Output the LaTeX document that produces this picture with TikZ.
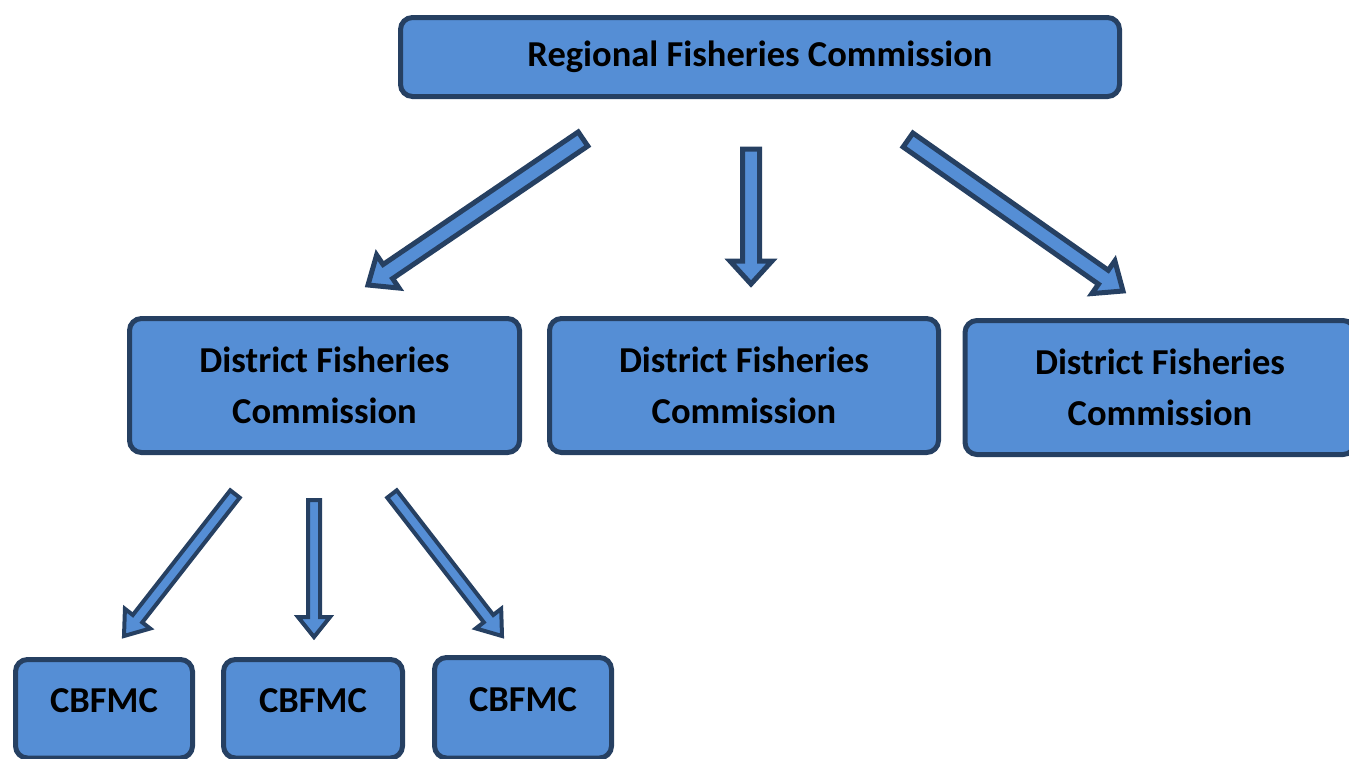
\documentclass[tikz,border=0pt]{standalone}
\usepackage{fontspec}
\setmainfont{Carlito}
\usetikzlibrary{calc}
\definecolor{boxfill}{RGB}{85,142,213}
\definecolor{boxline}{RGB}{38,64,98}
\tikzset{
  orgbox/.style={draw=boxline, fill=boxfill, line width=5pt, rounded corners=12pt,
    align=center, font=\bfseries\fontsize{36.5}{51}\selectfont, inner sep=0pt},
  blockarr/.style={draw=boxline, fill=boxfill, line width=5pt, line join=miter},
  smallarr/.style={draw=boxline, fill=boxfill, line width=4pt, line join=miter}
}
% #1 style, #2 tail, #3 tip, #4 shaft half width, #5 head half width, #6 head length
\newcommand{\blockarrow}[6]{%
  \coordinate (ba-b) at ($(#3)!#6!(#2)$);
  \path[#1] ($(#2)!#4!90:(#3)$) -- ($(ba-b)!#4!90:(#3)$) -- ($(ba-b)!#5!90:(#3)$)
    -- (#3) -- ($(ba-b)!#5!-90:(#3)$) -- ($(ba-b)!#4!-90:(#3)$) -- ($(#2)!#4!-90:(#3)$) -- cycle;
}
\begin{document}
\begin{tikzpicture}[x=1pt,y=-1pt]
\useasboundingbox (0,0) rectangle (1349,758);
\node[orgbox, minimum width=719pt, minimum height=79pt] (reg) at (760,57) {Regional Fisheries Commission};
\node[orgbox, minimum width=390pt, minimum height=134pt] (d1) at (324.5,385.5) {District Fisheries\\Commission};
\node[orgbox, minimum width=389pt, minimum height=134pt] (d2) at (744,385.5) {District Fisheries\\Commission};
\node[orgbox, minimum width=390pt, minimum height=134pt] (d3) at (1160,387.5) {District Fisheries\\Commission};
\node[orgbox, minimum width=177pt, minimum height=98.5pt, text depth=17pt] (c1) at (104,708.75) {CBFMC};
\node[orgbox, minimum width=179pt, minimum height=98.5pt, text depth=17pt] (c2) at (313,708.75) {CBFMC};
\node[orgbox, minimum width=177pt, minimum height=100.5pt, text depth=17pt] (c3) at (523,707.75) {CBFMC};
% upper arrows
\coordinate (a1t) at (583,139); \coordinate (a1h) at (368,285);
\coordinate (a2t) at (751,149); \coordinate (a2h) at (751,284);
\coordinate (a3t) at (908,140); \coordinate (a3h) at (1123,291);
\blockarrow{blockarr}{a1t}{a1h}{8.5pt}{20pt}{24pt}
\blockarrow{blockarr}{a2t}{a2h}{8.5pt}{21pt}{23pt}
\blockarrow{blockarr}{a3t}{a3h}{8.5pt}{20pt}{24pt}
% lower arrows
\coordinate (b1t) at (235,494); \coordinate (b1h) at (124,636);
\coordinate (b2t) at (314,500); \coordinate (b2h) at (314,637);
\coordinate (b3t) at (392,494); \coordinate (b3h) at (502,636);
\blockarrow{smallarr}{b1t}{b1h}{6pt}{16pt}{22pt}
\blockarrow{smallarr}{b2t}{b2h}{6pt}{16pt}{20pt}
\blockarrow{smallarr}{b3t}{b3h}{6pt}{16pt}{22pt}
\end{tikzpicture}
\end{document}
